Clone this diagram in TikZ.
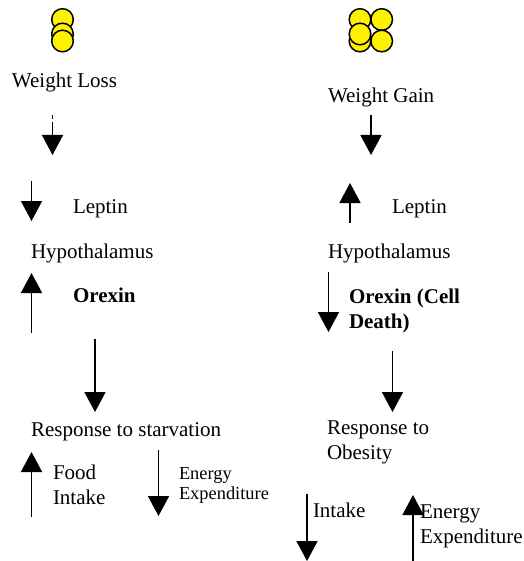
\documentclass[tikz,border=0pt]{standalone}
\usepackage{fontspec}
\setmainfont{Liberation Serif}
\usetikzlibrary{arrows.meta}
\tikzset{
  lbl/.style={anchor=base west,inner sep=0pt,outer sep=0pt,align=left,font=\fontsize{21}{25}\selectfont},
  lblsm/.style={lbl,font=\fontsize{18.4}{19.5}\selectfont},
  lblb/.style={lbl,font=\fontsize{21}{24.5}\selectfont\bfseries},
  arr/.style={line width=1.7pt,-{Triangle[length=20pt,width=21pt]}},
  ball/.style={circle,draw=black,fill=yellow,line width=1.5pt,minimum size=21.6pt,inner sep=0pt}
}
\begin{document}
\begin{tikzpicture}[x=1pt,y=-1pt]
\useasboundingbox (0,0) rectangle (523,561);
% balls, left
\node[ball] (l1) at (62.5,19.5) {};
\node[ball] (l2) at (62.5,34) {};
\node[ball] (l3) at (62.5,41) {};
% balls, right
\node[ball] (r1) at (360,41) {};
\node[ball] (r2) at (360,19.5) {};
\node[ball] (r3) at (381.7,19.5) {};
\node[ball] (r4) at (381.7,41) {};
\node[ball] (r5) at (360,34) {};
% labels, left
\node[lbl] (wl) at (12,88) {Weight Loss};
\node[lbl] (ll) at (73,213) {Leptin};
\node[lbl] (hl) at (31,258) {Hypothalamus};
\node[lblb] (ol) at (73,302) {Orexin};
\node[lbl] (rl) at (31,436) {Response to starvation};
\node[lbl] (fl) at (53,504) {Food\\Intake};
\node[lblsm] (el) at (179,499) {Energy\\Expenditure};
% labels, right
\node[lbl] (wr) at (328,103) {Weight Gain};
\node[lbl] (lr) at (392,213) {Leptin};
\node[lbl] (hr) at (328,258) {Hypothalamus};
\node[lblb] (or) at (349,328) {Orexin (Cell\\Death)};
\node[lbl] (rr) at (327,459) {Response to\\Obesity};
\node[lbl] (ir) at (313,517) {Intake};
\node[lbl] (er) at (420,543) {Energy\\Expenditure};
% arrow ends
\coordinate (a1s) at (52.5,115); \coordinate (a1e) at (52.5,155);
\coordinate (a2s) at (31.5,181); \coordinate (a2e) at (31.5,221);
\coordinate (a3s) at (31.5,333); \coordinate (a3e) at (31.5,273);
\coordinate (a4s) at (95,339);   \coordinate (a4e) at (95,412);
\coordinate (a5s) at (31.5,517); \coordinate (a5e) at (31.5,452);
\coordinate (a6s) at (158.5,450);\coordinate (a6e) at (158.5,516);
\coordinate (b1s) at (371,115);  \coordinate (b1e) at (371,155);
\coordinate (b2s) at (350,223);  \coordinate (b2e) at (350,183);
\coordinate (b3s) at (328.5,272);\coordinate (b3e) at (328.5,332);
\coordinate (b4s) at (392.5,351);\coordinate (b4e) at (392.5,412);
\coordinate (b5s) at (307,494);  \coordinate (b5e) at (307,561);
\coordinate (b6s) at (413,561);  \coordinate (b6e) at (413,495);
% arrows
\draw[arr,dash pattern=on 4.5pt off 2.5pt on 100pt off 0pt] (a1s) -- (a1e);
\draw[arr] (a2s) -- (a2e);
\draw[arr] (a3s) -- (a3e);
\draw[arr] (a4s) -- (a4e);
\draw[arr] (a5s) -- (a5e);
\draw[arr] (a6s) -- (a6e);
\draw[arr] (b1s) -- (b1e);
\draw[arr] (b2s) -- (b2e);
\draw[arr] (b3s) -- (b3e);
\draw[arr] (b4s) -- (b4e);
\draw[arr] (b5s) -- (b5e);
\draw[arr] (b6s) -- (b6e);
\end{tikzpicture}
\end{document}
